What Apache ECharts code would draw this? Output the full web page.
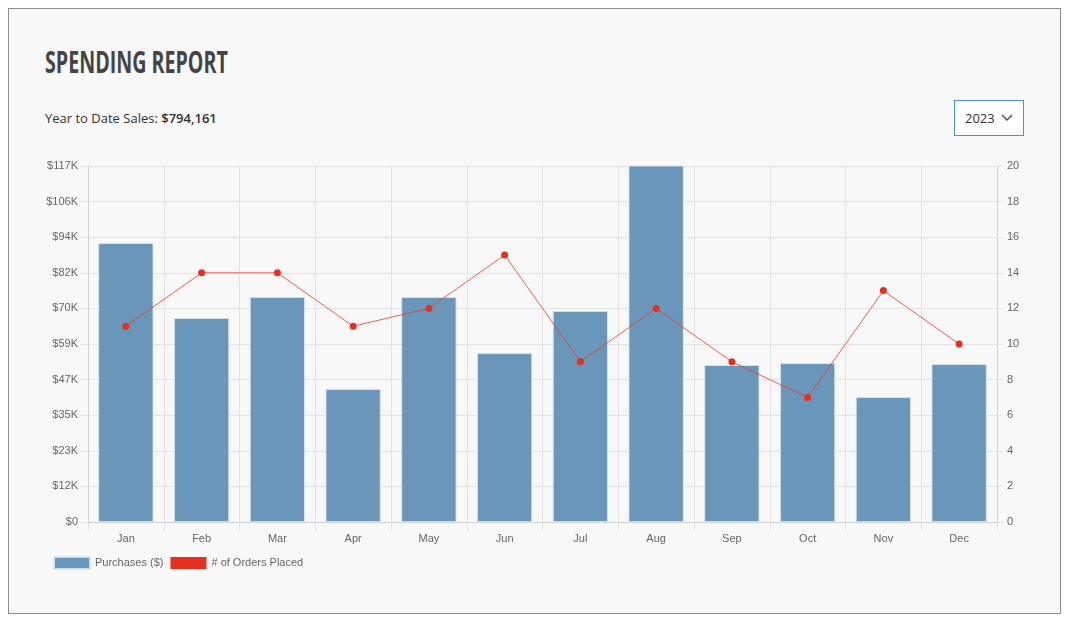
<!DOCTYPE html>
<html>
<head>
<meta charset="utf-8">
<script src="https://cdn.jsdelivr.net/npm/echarts@6/dist/echarts.min.js"></script>
<style>
  html, body { margin: 0; padding: 0; background: #ffffff; }
  #frame { position: absolute; left: 8px; top: 8px; width: 1051px; height: 604px; border: 1px solid #8c8c8c; background: #f7f8f7; }
  #title { position: absolute; left: 45px; top: 42px; font-family: "Open Sans", sans-serif; font-weight: bold; font-size: 30px; line-height: 40px; color: #444; transform: scaleX(0.655); transform-origin: left top; white-space: nowrap; }
  #sub { position: absolute; left: 45px; top: 109px; font-family: "Open Sans", sans-serif; font-size: 13px; color: #333; }
  #sub b { font-weight: 600; }
  #sel { position: absolute; left: 954px; top: 100px; width: 68px; height: 34px; border: 1px solid #4a90e2; background: #fff; font-family: "Open Sans", sans-serif; font-size: 13px; color: #333; box-sizing: content-box; }
  #sel span { position: absolute; left: 10px; top: 8px; }
  #sel svg { position: absolute; left: 46px; top: 13px; }
  #chart { position: absolute; left: 0; top: 0; width: 1067px; height: 622px; }
</style>
</head>
<body>
<div id="frame"></div>
<div id="title">SPENDING REPORT</div>
<div id="sub">Year to Date Sales: <b>$794,161</b></div>
<div id="sel"><span>2023</span><svg width="12" height="8" viewBox="0 0 12 8"><polyline points="1,1 6,6 11,1" fill="none" stroke="#555" stroke-width="1.5"/></svg></div>
<div id="chart"></div>
<script>
const months = ["Jan","Feb","Mar","Apr","May","Jun","Jul","Aug","Sep","Oct","Nov","Dec"];
const purchases = [92000, 67300, 74200, 43900, 74200, 55700, 69600, 119800, 51800, 52400, 41200, 52100];
const orders = [11, 14, 14, 11, 12, 15, 9, 12, 9, 7, 13, 10];
const leftTickLabels = ["$0","$12K","$23K","$35K","$47K","$59K","$70K","$82K","$94K","$106K","$117K"];
const leftMax = 117400;
const leftInterval = 11740;

const chart = echarts.init(document.getElementById('chart'), null, { renderer: 'canvas' });
const axisFont = { fontFamily: 'Liberation Sans, Arial, sans-serif', fontSize: 11, color: '#666' };
chart.setOption({
  backgroundColor: 'transparent',
  animation: false,
  grid: { left: 88, right: 70, top: 166, bottom: 100, containLabel: false },
  legend: {
    left: 48, top: 551,
    itemWidth: 36, itemHeight: 12, itemGap: 7,
    icon: 'rect',
    textStyle: { fontFamily: 'Liberation Sans, Arial, sans-serif', fontSize: 11, color: '#666' },
    data: ['Purchases ($)', '# of Orders Placed']
  },
  xAxis: {
    type: 'category',
    data: months,
    boundaryGap: true,
    axisLine: { lineStyle: { color: '#d0d0d0' } },
    axisTick: { show: true, length: 8, lineStyle: { color: '#e0e0e0' } },
    axisLabel: Object.assign({ margin: 11 }, axisFont),
    splitLine: { show: true, lineStyle: { color: '#e3e3e3' } }
  },
  yAxis: [
    {
      type: 'value', min: 0, max: leftMax, interval: leftInterval,
      axisLine: { show: true, lineStyle: { color: '#d0d0d0' } },
      axisTick: { show: true, length: 8, lineStyle: { color: '#e3e3e3' } },
      axisLabel: Object.assign({ margin: 10, formatter: v => leftTickLabels[Math.round(v / leftInterval)] }, axisFont),
      splitLine: { show: true, lineStyle: { color: '#e3e3e3' } }
    },
    {
      type: 'value', min: 0, max: 20, interval: 2, position: 'right',
      axisLine: { show: true, lineStyle: { color: '#d0d0d0' } },
      axisTick: { show: true, length: 6, lineStyle: { color: '#e3e3e3' } },
      axisLabel: Object.assign({ margin: 10 }, axisFont),
      splitLine: { show: false }
    }
  ],
  series: [
    {
      name: 'Purchases ($)',
      type: 'bar',
      data: purchases,
      barWidth: '73%',
      clip: true,
      itemStyle: { color: '#6a96b9', borderColor: 'rgba(215,228,240,0.9)', borderWidth: 1 },
      z: 2
    },
    {
      name: '# of Orders Placed',
      type: 'line',
      yAxisIndex: 1,
      data: orders,
      symbol: 'circle',
      symbolSize: 7,
      lineStyle: { color: 'rgba(229,60,45,0.8)', width: 1 },
      itemStyle: { color: '#e5301f' },
      z: 3
    }
  ]
});
</script>
</body>
</html>
